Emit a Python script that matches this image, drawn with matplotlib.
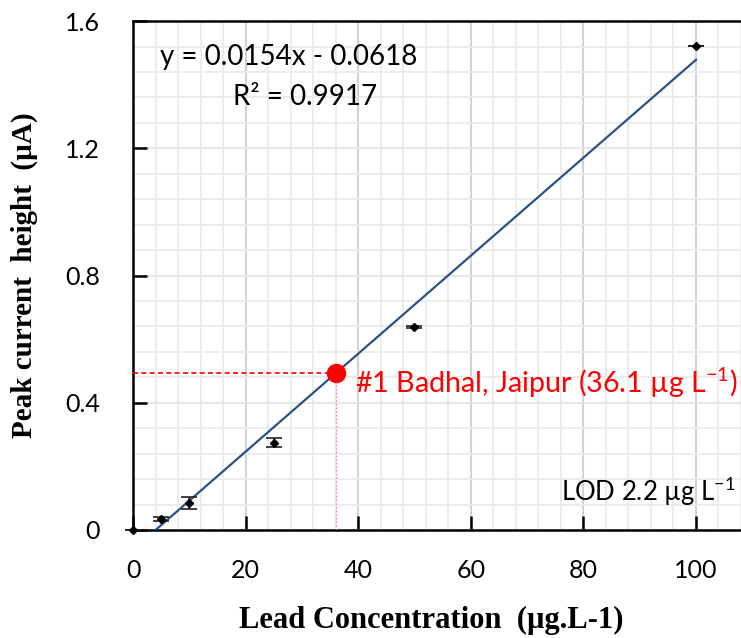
import numpy as np
import matplotlib.pyplot as plt
from matplotlib.ticker import MultipleLocator

plt.rcParams['mathtext.fontset'] = 'custom'
plt.rcParams['mathtext.rm'] = 'Lato'
plt.rcParams['mathtext.it'] = 'Lato'
plt.rcParams['mathtext.bf'] = 'Lato'

# calibration data
conc = [0, 5, 10, 25, 50, 100]
current = [0.0, 0.035, 0.085, 0.275, 0.638, 1.522]
current_err = [0.0, 0.006, 0.02, 0.015, 0.004, 0.0]

# linear fit reported on the chart
slope = 0.0154
intercept = -0.0618
r2 = 0.9917

# sample
sample_name = "#1 Badhal, Jaipur"
sample_conc = 36.1
lod = 2.2

fig = plt.figure(figsize=(7.41, 6.38), dpi=100)
ax = fig.add_axes([0.1795, 0.1693, 0.8205, 0.7977])

ax.set_xlim(0, 108)
ax.set_ylim(0, 1.6)
ax.xaxis.set_major_locator(MultipleLocator(20))
ax.xaxis.set_minor_locator(MultipleLocator(4))
ax.yaxis.set_major_locator(MultipleLocator(0.4))
ax.yaxis.set_minor_locator(MultipleLocator(0.08))

ax.grid(which='minor', color='#ebebeb', linewidth=1.3, zorder=0)
ax.grid(which='major', axis='y', color='#e4e4e4', linewidth=1.3, zorder=0)
ax.grid(which='major', axis='x', color='#d2d2d2', linewidth=1.5, zorder=0)
ax.set_axisbelow(True)

ax.spines['right'].set_visible(False)
for s in ['left', 'bottom', 'top']:
    ax.spines[s].set_linewidth(1.8)
ax.tick_params(which='major', direction='in', length=10, width=1.8, top=False, right=False,
               labelsize=18)
ax.tick_params(axis='x', pad=21)
ax.tick_params(axis='y', pad=24)
ax.tick_params(which='minor', length=0)
ax.set_xticks([0, 20, 40, 60, 80, 100])
ax.set_yticks([0, 0.4, 0.8, 1.2, 1.6])
ax.set_yticklabels(["0", "0.4", "0.8", "1.2", "1.6"])
for lab in ax.get_xticklabels() + ax.get_yticklabels():
    lab.set_family('Lato')

# trend line
fit_x = np.array([-intercept / slope, 100])
ax.plot(fit_x, slope * fit_x + intercept, color='#2a5286', linewidth=1.6, zorder=3)

# data points
ax.errorbar(conc, current, yerr=current_err, fmt='D', color='black', markersize=4,
            ecolor='#222222', elinewidth=1.2, capsize=6, capthick=1.2, zorder=4, clip_on=False)

# sample point
sample_y = slope * sample_conc + intercept
ax.plot([0, sample_conc], [sample_y, sample_y], color='red', linestyle=(0, (3, 2)), linewidth=1.2, zorder=3)
ax.plot([sample_conc, sample_conc], [0, sample_y], color='#ff8080', linestyle=':', linewidth=1.0, zorder=3)
ax.plot(sample_conc, sample_y, 'o', color='red', markersize=13, zorder=5)
ax.text(39.4, 0.462, f"{sample_name} ({sample_conc} µg L$^{{-1}}$)",
        color='red', fontsize=20.6, family='Lato', va='center', ha='left')

ax.text(107, 0.12, f"LOD {lod} µg L$^{{-1}}$", color='black', fontsize=18.5, family='Lato',
        va='center', ha='right')

ax.text(27.7, 1.487, f"y = {slope}x - {abs(intercept)}", fontsize=20, family='Lato', ha='center', va='center')
ax.text(30.5, 1.362, f"R² = {r2}", fontsize=20, family='Lato', ha='center', va='center')

ax.set_xlabel("Lead Concentration  (µg.L-1)", family='Liberation Serif', fontweight='bold',
              fontsize=22, va='center')
ax.set_ylabel("Peak current  height  (µA)", family='Liberation Serif', fontweight='bold',
              fontsize=21, va='center')
ax.xaxis.set_label_coords(0.49, -0.177)
ax.yaxis.set_label_coords(-0.178, 0.5)

fig.savefig("out.png", dpi=100)
